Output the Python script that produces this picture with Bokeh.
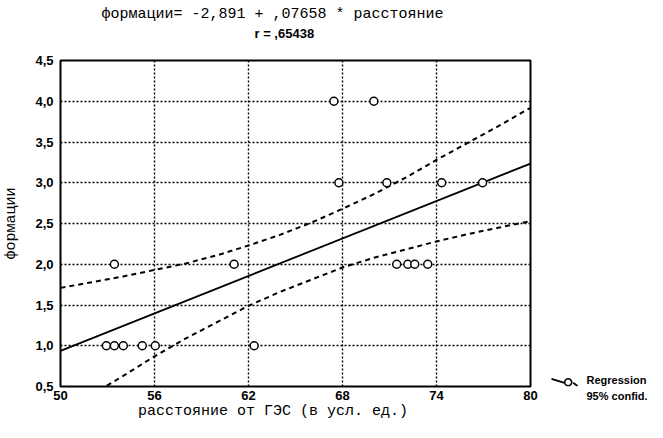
from bokeh.plotting import figure
from bokeh.layouts import row
from bokeh.models import Range1d, CustomJSTickFormatter, Title, AllLabels
from bokeh.core.properties import value
from bokeh.embed import file_html
from bokeh.resources import INLINE

# ---- data ----
pts_x = [67.45, 70.0, 67.77, 70.83, 74.33, 76.94,
         53.44, 61.08, 71.46, 72.17, 72.61, 73.44,
         52.93, 53.44, 54.01, 55.22, 56.05, 62.36]
pts_y = [4, 4, 3, 3, 3, 3,
         2, 2, 2, 2, 2, 2,
         1, 1, 1, 1, 1, 1]

intercept = -2.891
slope = 0.07658
reg_x = [50, 80]
reg_y = [intercept + slope * v for v in reg_x]

band_x = [50, 52, 54, 56, 58, 60, 62, 64, 66, 68, 70, 72, 74, 76, 78, 80]
band_upper = [1.71, 1.78, 1.85, 1.93, 2.01, 2.11, 2.23, 2.36, 2.51, 2.68,
              2.86, 3.06, 3.28, 3.49, 3.70, 3.92]
band_lower = [0.17, 0.40, 0.63, 0.87, 1.09, 1.29, 1.49, 1.66, 1.81, 1.96,
              2.08, 2.18, 2.28, 2.37, 2.45, 2.53]

x_ticks = [50, 56, 62, 68, 74, 80]
y_ticks = [0.5, 1.0, 1.5, 2.0, 2.5, 3.0, 3.5, 4.0, 4.5]

title_eq = "формации= -2,891 + ,07658 * расстояние"
title_r = "r = ,65438"
x_label = "расстояние от ГЭС (в усл. ед.)"
y_label = "формации"
legend_lines = ["Regression", "95% confid."]

# ---- main figure ----
p = figure(width=538, height=422, x_range=Range1d(50, 80), y_range=Range1d(0.5, 4.5),
           output_backend="svg", toolbar_location=None, title=None,
           min_border_left=59, min_border_right=8, min_border_top=60, min_border_bottom=35)
p.background_fill_color = "white"
p.border_fill_color = "white"
p.outline_line_color = "black"
p.outline_line_width = 2

p.xaxis.ticker = x_ticks
p.yaxis.ticker = y_ticks
p.yaxis.formatter = CustomJSTickFormatter(code="return tick.toFixed(1).replace('.', ',');")
for ax in (p.xaxis, p.yaxis):
    ax.axis_line_color = None
    ax.major_tick_line_color = None
    ax.minor_tick_line_color = None
    ax.major_tick_out = 0
    ax.major_tick_in = 0
    ax.minor_tick_out = 0
    ax.minor_tick_in = 0
    ax.major_label_policy = AllLabels()
    ax.major_label_text_font = "Liberation Sans"
    ax.major_label_text_font_style = "bold"
    ax.major_label_text_font_size = "13px"
    ax.major_label_text_color = "black"
    ax.axis_label_text_font = "Liberation Mono"
    ax.axis_label_text_font_style = "normal"
    ax.axis_label_text_font_size = "15px"
    ax.axis_label_text_color = "black"
p.xaxis.major_label_standoff = 4
p.yaxis.major_label_standoff = 7
p.yaxis.axis_label = y_label
p.yaxis.axis_label_standoff = 12
# trailing no-break spaces shift the centred label to the left, as in the reference
p.xaxis.axis_label = x_label + "\u00a0" * 5
p.xaxis.axis_label_standoff = 0

for g in (p.xgrid, p.ygrid):
    g.grid_line_color = "black"
    g.grid_line_dash = "2 2"
    g.grid_line_width = 1.4

p.line(band_x, band_upper, line_color="black", line_width=2, line_dash="5 4")
p.line(band_x, band_lower, line_color="black", line_width=2, line_dash="5 4")
p.line(reg_x, reg_y, line_color="black", line_width=1.8)
p.scatter(pts_x, pts_y, marker="circle", size=8, fill_color="white",
          line_color="black", line_width=1.5)

# ---- titles (first added = nearest the frame) ----
p.add_layout(Title(text=title_r + "\n\u00a0", align="left", offset=194, standoff=0,
                   text_line_height=1.3,
                   text_font="Liberation Sans", text_font_style="bold",
                   text_font_size="13px", text_color="black"), "above")
p.add_layout(Title(text=title_eq, align="left", offset=41, standoff=2,
                   text_font="Liberation Mono", text_font_style="normal",
                   text_font_size="15px", text_color="black"), "above")

# ---- legend panel (small figure to the right; frame aligned with the main frame,
#      y measured in pixels above the frame bottom) ----
lg = figure(width=109, height=422, x_range=Range1d(0, 109), y_range=Range1d(0, 327),
            output_backend="svg", toolbar_location=None, title=None,
            x_axis_type=None, y_axis_type=None, min_border=0)
lg.grid.visible = False
lg.outline_line_color = None
lg.background_fill_color = "white"
lg.border_fill_color = "white"
lg.segment(x0=[13, 34.7], y0=[7.7, 3.7], x1=[26, 39], y1=[3.7, 0.5],
           line_color="black", line_width=1.8)
lg.scatter(x=[29.7], y=[4.2], marker="circle", size=7, fill_color="white",
           line_color="black", line_width=1.6)
lg.text(x=[48], y=[7], text=legend_lines[:1], text_align="left",
        text_baseline="middle", text_font=value("Liberation Sans"),
        text_font_style="bold", text_font_size="11px", text_color="black")
lg.add_layout(Title(text=legend_lines[1], align="left", offset=48, standoff=7,
                    vertical_align="top",
                    text_font="Liberation Sans", text_font_style="bold",
                    text_font_size="11px", text_color="black"), "below")

layout = row(p, lg)
open("out.html", "w").write(file_html(layout, INLINE))
